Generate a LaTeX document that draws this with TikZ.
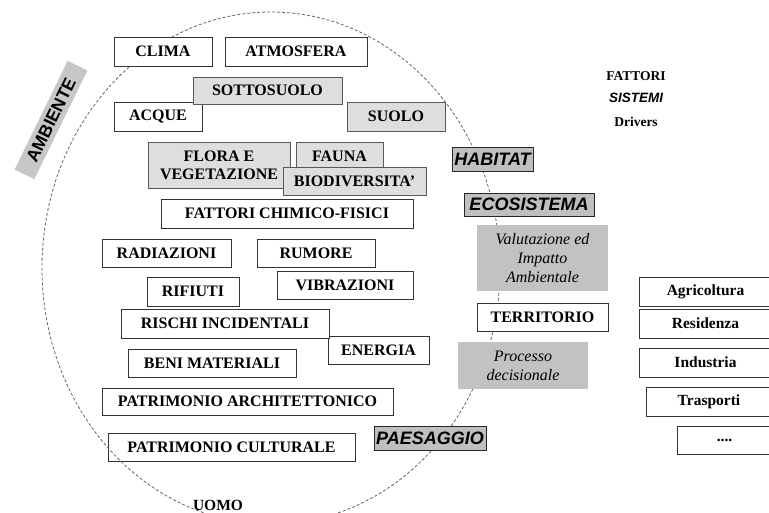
\documentclass[tikz,border=0pt]{standalone}
\usepackage{fontspec}
\setmainfont{Liberation Serif}
\setsansfont{Liberation Sans}
\begin{document}
\begin{tikzpicture}[x=1pt,y=-1pt,
  base/.style={inner sep=0pt, align=center, text=black},
  wbox/.style={base, draw=black!80, line width=0.8pt, fill=white, font=\bfseries\fontsize{16}{18}\selectfont},
  gbox/.style={base, draw=black!65, line width=0.8pt, fill=black!13, font=\bfseries\fontsize{16}{18}\selectfont},
  kbox/.style={base, draw=black!85, line width=0.8pt, fill=black!25, font=\sffamily\bfseries\itshape\fontsize{18}{20}\selectfont},
  sbox/.style={base, fill=black!24, font=\itshape\fontsize{16}{19}\selectfont},
  rbox/.style={base, draw=black!80, line width=0.8pt, fill=white, font=\bfseries\fontsize{15.5}{18}\selectfont},
  plain/.style={base, font=\bfseries\fontsize{13.5}{16}\selectfont},
  sz/.style 2 args={minimum width=#1, minimum height=#2}
]
\useasboundingbox (0,0) rectangle (769,513);
\fill[white] (0,0) rectangle (769,513);

\node[wbox, sz={247}{28}] (patcult) at (231.5,447) {PATRIMONIO CULTURALE};

\draw[black!60, line width=0.8pt, dash pattern=on 3pt off 2pt] (271,268) ellipse [x radius=229, y radius=256];

\node[fill=black!22, rotate=64, inner sep=0pt, sz={121}{22}, font=\sffamily\bfseries\fontsize{17.5}{20}\selectfont] (amb) at (51,120) {AMBIENTE};

\node[wbox, sz={98}{29}] (clima) at (163,51.5) {CLIMA};
\node[wbox, sz={142}{29}] (atmo) at (296,51.5) {ATMOSFERA};
\node[wbox, sz={88}{29}] (acque) at (158,116.5) {ACQUE};
\node[gbox, sz={149}{27}] (sotto) at (267.5,90.5) {SOTTOSUOLO};
\node[gbox, sz={98}{29}] (suolo) at (396,116.5) {SUOLO};
\node[gbox, sz={142}{46}] (flora) at (219,165) {FLORA E\\VEGETAZIONE};
\node[gbox, sz={87}{28}] (fauna) at (339.5,156) {FAUNA};
\node[gbox, sz={143}{28}] (biodiv) at (354.5,181) {BIODIVERSITA’};
\node[wbox, sz={252}{29}] (chim) at (287,213.5) {FATTORI CHIMICO-FISICI};
\node[wbox, sz={129}{28}] (radiaz) at (166.5,253) {RADIAZIONI};
\node[wbox, sz={118}{28}] (rumore) at (316,253) {RUMORE};
\node[wbox, sz={136}{28}] (vibraz) at (345,285) {VIBRAZIONI};
\node[wbox, sz={92}{29}] (rifiuti) at (193,291.5) {RIFIUTI};
\node[wbox, sz={101}{28}] (energia) at (378.5,350) {ENERGIA};
\node[wbox, sz={208}{29}] (rischi) at (225,323.5) {RISCHI INCIDENTALI};
\node[wbox, sz={168}{28}] (beni) at (212,363) {BENI MATERIALI};
\node[wbox, sz={291}{27}] (patarch) at (247.5,401.5) {PATRIMONIO ARCHITETTONICO};

\node[base, font=\bfseries\fontsize{15.5}{18}\selectfont] (uomo) at (218,505) {UOMO};

\node[kbox, sz={81}{24}] (habitat) at (492.5,159) {HABITAT};
\node[kbox, sz={130}{23}] (ecosis) at (529,204.5) {ECOSISTEMA};
\node[sbox, sz={131}{66}] (valut) at (542.5,258) {Valutazione ed\\Impatto\\Ambientale};
\node[wbox, sz={131}{28}] (territ) at (542.5,317) {TERRITORIO};
\node[sbox, sz={130}{47}] (proc) at (523,365.5) {Processo\\decisionale};
\node[kbox, sz={112}{24}] (paes) at (430,438) {PAESAGGIO};

\node[plain] (fattori) at (636,76) {FATTORI};
\node[plain, font=\sffamily\bfseries\itshape\fontsize{13.5}{16}\selectfont] (sistemi) at (636,98) {SISTEMI};
\node[plain] (drivers) at (636,122) {Drivers};

\node[rbox, sz={133}{29}] (agri) at (705.5,291.5) {Agricoltura};
\node[rbox, sz={133}{29}] (resid) at (705.5,323.5) {Residenza};
\node[rbox, sz={133}{29}] (indus) at (705.5,362.5) {Industria};
\node[rbox, sz={126}{29}] (trasp) at (709,401.5) {Trasporti};
\node[rbox, sz={95}{28}] (dots) at (724.5,440) {....};
\end{tikzpicture}
\end{document}
